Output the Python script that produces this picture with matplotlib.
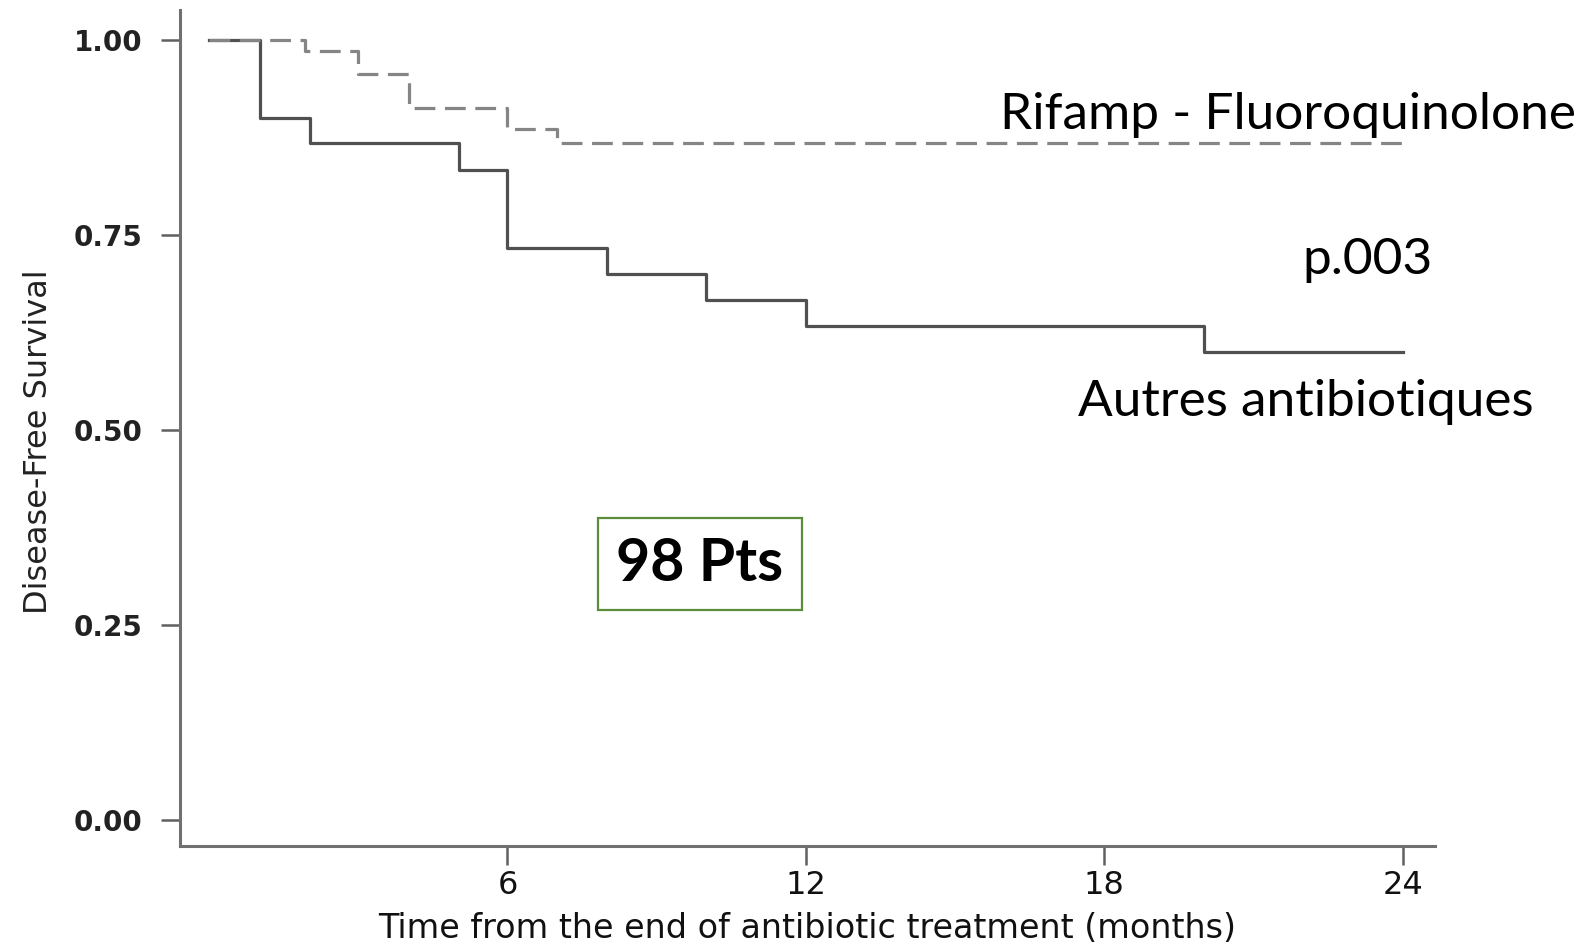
import matplotlib
matplotlib.use("Agg")
import matplotlib.pyplot as plt

# Kaplan-Meier steps (months, survival) for each group
rifamp_times = [0, 1.93, 3.0, 4.02, 6.0, 7.0, 24]
rifamp_surv = [1.0, 0.985, 0.956, 0.912, 0.885, 0.868, 0.868]

autres_times = [0, 1.03, 2.03, 5.03, 6.0, 8.0, 10.0, 12.0, 20.0, 24]
autres_surv = [1.0, 0.900, 0.867, 0.833, 0.733, 0.700, 0.667, 0.633, 0.600, 0.600]

x_ticks = [6, 12, 18, 24]
y_ticks = [0.00, 0.25, 0.50, 0.75, 1.00]

fig = plt.figure(figsize=(15.87, 9.5), dpi=100)
ax = fig.add_axes([0.1132, 0.1095, 0.7908, 0.88])

ax.step(autres_times, autres_surv, where="post", color="#505050", lw=2.3)
ax.step(rifamp_times, rifamp_surv, where="post", color="#858585", lw=2.3,
        linestyle=(0, (6.5, 3.0)))

ax.set_xlim(-0.59, 24.64)
ax.set_ylim(-0.033, 1.038)

for side in ("top", "right"):
    ax.spines[side].set_visible(False)
for side in ("left", "bottom"):
    ax.spines[side].set_color("#707070")
    ax.spines[side].set_linewidth(2.2)

ax.set_xticks(x_ticks)
ax.set_xticklabels([str(t) for t in x_ticks], fontsize=23, color="#111111")
ax.set_yticks(y_ticks)
ax.set_yticklabels([f"{t:.2f}" for t in y_ticks], fontweight="bold",
                   fontsize=20, color="#222222")
ax.tick_params(axis="x", direction="out", length=14, width=1.8,
               color="#606060", pad=3)
ax.tick_params(axis="y", direction="out", length=14, width=1.8,
               color="#606060", pad=13)

ax.set_xlabel("Time from the end of antibiotic treatment (months)",
              fontsize=24, labelpad=8, color="#111111")
ax.set_ylabel("Disease-Free Survival", fontsize=23, color="#222222")
ax.yaxis.set_label_coords(-0.1, 0.483)

ann = ["Lato", "DejaVu Sans"]
ax.text(15.9, 0.903, "Rifamp - Fluoroquinolone", fontfamily=ann,
        fontsize=37, ha="left", va="center", color="black")
ax.text(23.3, 0.718, "p.003", fontfamily=ann, fontsize=37,
        ha="center", va="center", color="black")
ax.text(22.04, 0.536, "Autres antibiotiques", fontfamily=ann, fontsize=37,
        ha="center", va="center", color="black")
ax.text(9.87, 0.328, "98 Pts", fontfamily=ann, fontsize=42.5,
        fontweight="bold", ha="center", va="center", color="black",
        bbox=dict(boxstyle="square,pad=0.32", fc="white",
                  ec="#5b8c3a", lw=1.6))

fig.savefig("out.png", dpi=100)
